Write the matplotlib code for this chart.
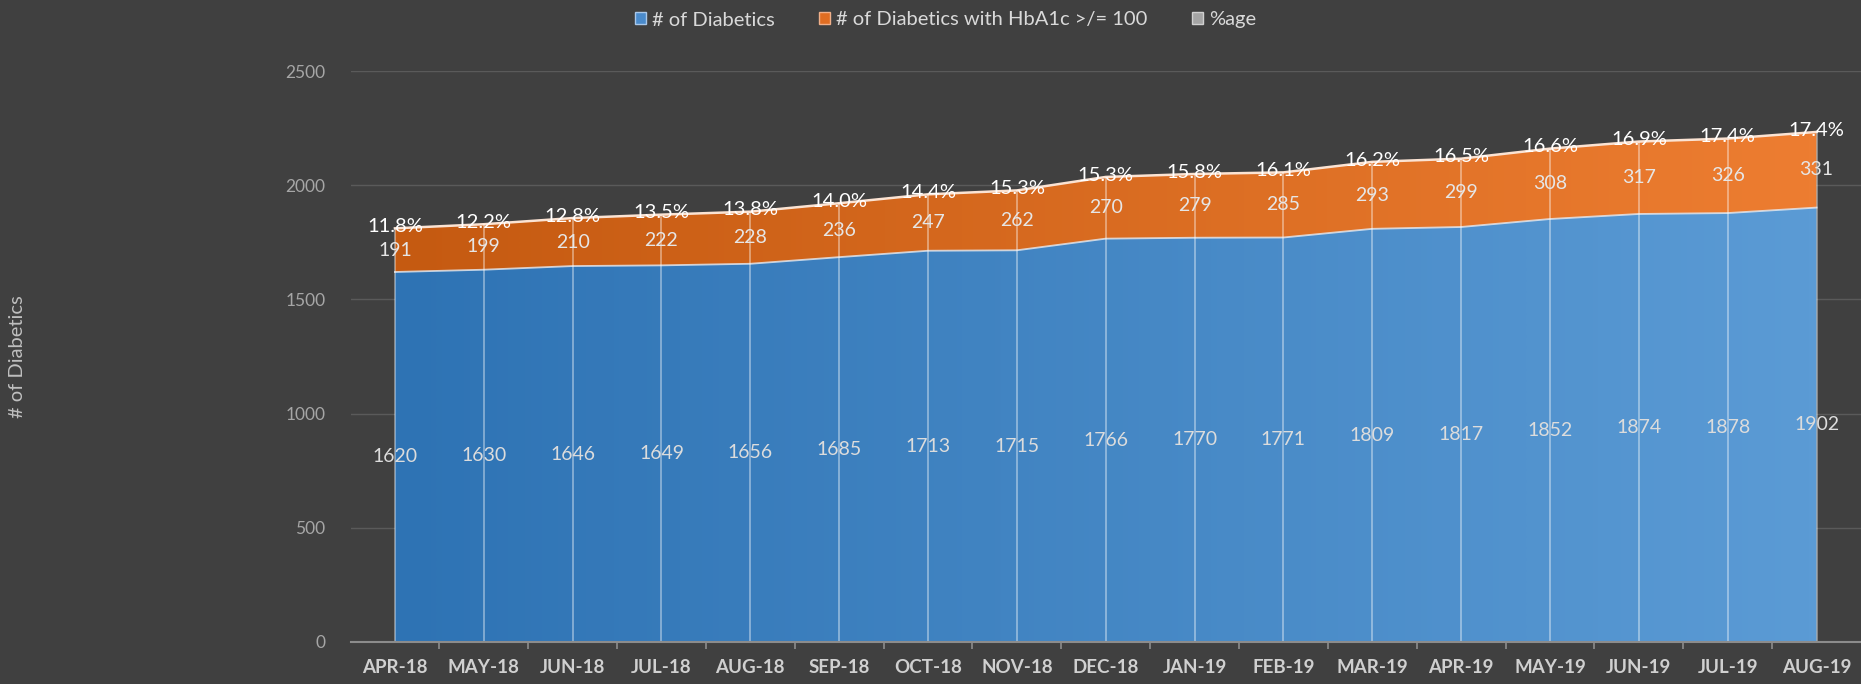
import numpy as np
import matplotlib.pyplot as plt
from matplotlib.colors import LinearSegmentedColormap
from matplotlib.patches import Patch

plt.rcParams['font.family'] = ['Lato', 'DejaVu Sans']

# data
months = ['APR-18', 'MAY-18', 'JUN-18', 'JUL-18', 'AUG-18', 'SEP-18', 'OCT-18', 'NOV-18', 'DEC-18',
          'JAN-19', 'FEB-19', 'MAR-19', 'APR-19', 'MAY-19', 'JUN-19', 'JUL-19', 'AUG-19']
diabetics = [1620, 1630, 1646, 1649, 1656, 1685, 1713, 1715, 1766, 1770, 1771, 1809, 1817, 1852, 1874, 1878, 1902]
hba1c = [191, 199, 210, 222, 228, 236, 247, 262, 270, 279, 285, 293, 299, 308, 317, 326, 331]
pct = [11.8, 12.2, 12.8, 13.5, 13.8, 14.0, 14.4, 15.3, 15.3, 15.8, 16.1, 16.2, 16.5, 16.6, 16.9, 17.4, 17.4]

bg = '#404040'
x = np.arange(len(months))
d = np.array(diabetics, dtype=float)
h = np.array(hba1c, dtype=float)
p = np.array(pct) / 100.0
top1 = d
top2 = d + h
top3 = top2 + p

fig = plt.figure(figsize=(18.61, 6.84), dpi=100, facecolor=bg)
ax = fig.add_axes([350.5 / 1861, 1 - 642 / 684, 1 - 350.5 / 1861, (642 - 71) / 684])
ax.set_facecolor(bg)


def gradient_fill(y0, y1, c_left, c_right, z):
    # invisible fill to get the shape, then a horizontal gradient clipped to it
    poly = ax.fill_between(x, y0, y1, facecolor='none', edgecolor='none', zorder=z)
    cmap = LinearSegmentedColormap.from_list('g', [c_left, c_right])
    grad = np.linspace(0, 1, 256).reshape(1, -1)
    im = ax.imshow(grad, cmap=cmap, aspect='auto', extent=[x[0], x[-1], 0, 2500],
                   origin='lower', zorder=z, interpolation='bilinear')
    im.set_clip_path(poly.get_paths()[0], transform=ax.transData)
    return im


gradient_fill(0, top1, '#2e73b4', '#5b9bd5', 2)
gradient_fill(top1, top2, '#c55a11', '#ed7d31', 2)
ax.fill_between(x, top2, top3, color='#a5a5a5', zorder=2, lw=0)
ax.set_xlim(-0.5, len(months) - 0.5)
ax.set_ylim(0, 2500)

# boundary lines and drop lines
ax.plot(x, top1, color='#e8eef6', lw=1.3, alpha=0.8, zorder=3)
ax.plot(x, top3, color='#fbe3d3', lw=1.8, zorder=3)
ax.vlines(x, 0, top3, colors='white', lw=1.2, alpha=0.45, zorder=3)

# data labels
for xi, a, b, c in zip(x, d, h, pct):
    ax.text(xi, a / 2, f'{int(a)}', ha='center', va='center', fontsize=14, color='#dcdcdc', zorder=5)
    ax.text(xi, a + b / 2, f'{int(b)}', ha='center', va='center', fontsize=14, color='#e6e6e6', zorder=5)
    ax.text(xi, a + b + 8, f'{c:.1f}%', ha='center', va='center', fontsize=14.5, color='white', zorder=5)

# axes styling
ax.set_yticks([0, 500, 1000, 1500, 2000, 2500])
ax.yaxis.grid(True, color='#5a5a5a', lw=1)
ax.set_axisbelow(True)
ax.tick_params(axis='y', length=0, pad=18, labelsize=12.5, labelcolor='#a6a6a6')
ax.set_xticks(x)
ax.set_xticklabels(months, fontweight='bold')
ax.set_xticks(x[:-1] + 0.5, minor=True)
ax.tick_params(axis='x', which='major', length=0, pad=12, labelsize=13.5, labelcolor='#d0d0d0')
ax.tick_params(axis='x', which='minor', length=5, width=1.2, color='#8c8c8c')
for s in ['top', 'right', 'left']:
    ax.spines[s].set_visible(False)
ax.spines['bottom'].set_color('#8c8c8c')
ax.spines['bottom'].set_linewidth(1.5)
ax.spines['bottom'].set_zorder(4)

fig.text(18 / 1861, 1 - 357 / 684, '# of Diabetics', rotation=90, ha='center', va='center',
         fontsize=14.5, color='#bfbfbf')

handles = [Patch(facecolor='#4a8bcc', edgecolor='#a9c8ea'),
           Patch(facecolor='#e06d22', edgecolor='#f0b08a'),
           Patch(facecolor='#a5a5a5', edgecolor='#d0d0d0')]
fig.legend(handles, ['# of Diabetics', '# of Diabetics with HbA1c >/= 100', '%age'],
           loc='center', bbox_to_anchor=(0.508, 1 - 20 / 684), ncol=3, frameon=False,
           fontsize=14.5, labelcolor='#d9d9d9', handlelength=0.55, handleheight=0.55,
           handletextpad=0.3, columnspacing=2.2)

fig.savefig('out.png', dpi=100, facecolor=bg)
